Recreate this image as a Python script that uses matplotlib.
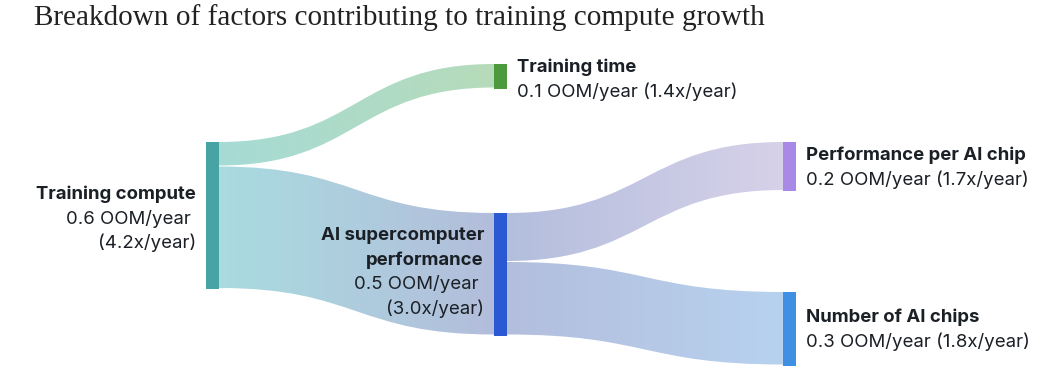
import numpy as np
import matplotlib
matplotlib.use('Agg')
import matplotlib.pyplot as plt
from matplotlib.path import Path
from matplotlib.patches import PathPatch, Rectangle
from matplotlib.colors import to_rgb

# data
names = ['Training compute', 'Training time', 'AI supercomputer\nperformance',
         'Performance per AI chip', 'Number of AI chips']
oom = [0.6, 0.1, 0.5, 0.2, 0.3]
growth = ['4.2x', '1.4x', '3.0x', '1.7x', '1.8x']
links = [(0, 1, 0.1), (0, 2, 0.5), (2, 3, 0.2), (2, 4, 0.3)]

# styling / layout
node_col = ['#48a4a4', '#4c9a3c', '#2b58d3', '#a88ae6', '#3f8fe2']
flow_from = ['#a6dbd5', '#a9dce0', '#b3bedd', '#b3bedd']
flow_to = ['#b6dbba', '#b3bddb', '#d7d1e9', '#b7d2ef']
column = [0, 1, 1, 2, 2]
col_x = [206, 494, 783]
node_top = [142, 64, 213, 142, 292]
label_dy = [3, 3, -2, 1, 1]
node_w = 13
scale = 245  # px per OOM
txt = '#1b2026'
font = 'Inter'

fig = plt.figure(figsize=(10.56, 3.68), dpi=100)
ax = fig.add_axes([0, 0, 1, 1])

out_off = [0] * len(names)
in_off = [0] * len(names)
for i, (s, t, v) in enumerate(links):
    h = v * scale
    x0 = col_x[column[s]] + node_w
    x1 = col_x[column[t]]
    y0 = node_top[s] + out_off[s]
    y1 = node_top[t] + in_off[t]
    out_off[s] += h
    in_off[t] += h
    xm = (x0 + x1) / 2
    verts = [(x0, y0), (xm, y0), (xm, y1), (x1, y1),
             (x1, y1 + h - 1), (xm, y1 + h - 1), (xm, y0 + h - 1), (x0, y0 + h - 1),
             (x0, y0)]
    codes = [Path.MOVETO, Path.CURVE4, Path.CURVE4, Path.CURVE4,
             Path.LINETO, Path.CURVE4, Path.CURVE4, Path.CURVE4, Path.CLOSEPOLY]
    patch = PathPatch(Path(verts, codes), facecolor='none', edgecolor='none')
    ax.add_patch(patch)
    c0 = np.array(to_rgb(flow_from[i]))
    c1 = np.array(to_rgb(flow_to[i]))
    f = np.linspace(0, 1, 256)[:, None]
    grad = (c0 * (1 - f) + c1 * f)[None, :, :]
    ymin = min(y0, y1)
    ymax = max(y0, y1) + h
    im = ax.imshow(grad, extent=(x0, x1, ymax, ymin), aspect='auto', interpolation='bilinear')
    im.set_clip_path(patch)

for i in range(len(names)):
    ax.add_patch(Rectangle((col_x[column[i]], node_top[i]), node_w, oom[i] * scale,
                           facecolor=node_col[i], edgecolor='none', zorder=3))

fs = 13.4
lh = 24.2
for i in range(len(names)):
    mid = node_top[i] + oom[i] * scale / 2
    name_lines = names[i].split('\n')
    if column[i] == 2 or i == 1:
        x = col_x[column[i]] + node_w + 10
        lines = [(n, 'bold') for n in name_lines] + \
                [(f'{oom[i]} OOM/year ({growth[i]}/year)', 'normal')]
        ha = 'left'
    else:
        x = col_x[column[i]] - 10
        lines = [(n, 'bold') for n in name_lines] + \
                [(f'{oom[i]} OOM/year ', 'normal'), (f'({growth[i]}/year)', 'normal')]
        ha = 'right'
    y = mid - (len(lines) - 1) * lh / 2 + label_dy[i]
    for s, w in lines:
        ax.text(x, y, s, ha=ha, va='center', fontsize=fs, fontweight=w,
                family=font, color=txt)
        y += lh

ax.text(34, 18, 'Breakdown of factors contributing to training compute growth',
        ha='left', va='center', fontsize=21.1, family='Liberation Serif', color='#222222')

ax.set_xlim(0, 1056)
ax.set_ylim(368, 0)
ax.axis('off')
fig.savefig('out.png', dpi=100)
